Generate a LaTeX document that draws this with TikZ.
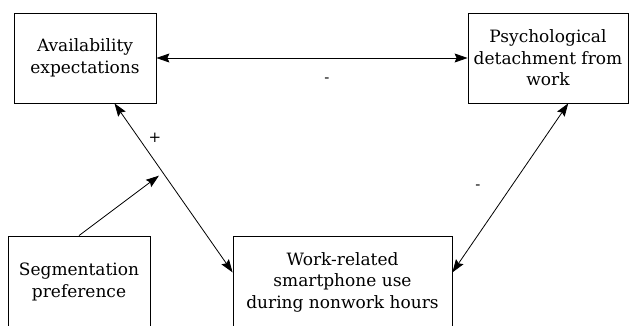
\documentclass[tikz,border=0pt]{standalone}
\usepackage{fontspec}
\setmainfont{DejaVu Serif}
\usetikzlibrary{arrows.meta,calc}

\begin{document}
\begin{tikzpicture}[x=1pt,y=1pt,
  varbox/.style={draw,line width=0.8pt,align=center,inner sep=2pt,
    font=\fontsize{17}{21.5}\selectfont},
  link/.style={line width=0.8pt,{Stealth[length=13pt,width=9pt,inset=2pt]}-{Stealth[length=13pt,width=9pt,inset=2pt]}},
  onelink/.style={line width=0.8pt,-{Stealth[length=13pt,width=9pt,inset=2pt]}},
  sign/.style={font=\fontsize{15}{18}\selectfont}]
  \useasboundingbox (0,0) rectangle (629,325);
  \clip (0,0) rectangle (629,325);
  \node[varbox,minimum width=142,minimum height=90] (avail) at (85,267) {Availability\\expectations};
  \node[varbox,minimum width=160,minimum height=90] (detach) at (548,267) {Psychological\\detachment from\\work};
  \node[varbox,minimum width=142,minimum height=92] (segm) at (79,43) {Segmentation\\preference};
  \node[varbox,minimum width=219,minimum height=92] (smart) at (342.5,43) {Work-related\\smartphone use\\during nonwork hours};
  % relations
  \draw[link] (avail.east) -- (detach.west);
  \node[sign] (minusa) at (327,245) {-};
  \draw[link] (avail.-57) -- coordinate[pos=0.41] (moder) (smart.175);
  \node[sign] (plus) at (155,187) {+};
  \draw[link] (detach.-66) -- (smart.5);
  \node[sign] (minusb) at (478,138) {-};
  \draw[onelink,shorten >=5pt] (segm.north) -- (moder);
\end{tikzpicture}
\end{document}
